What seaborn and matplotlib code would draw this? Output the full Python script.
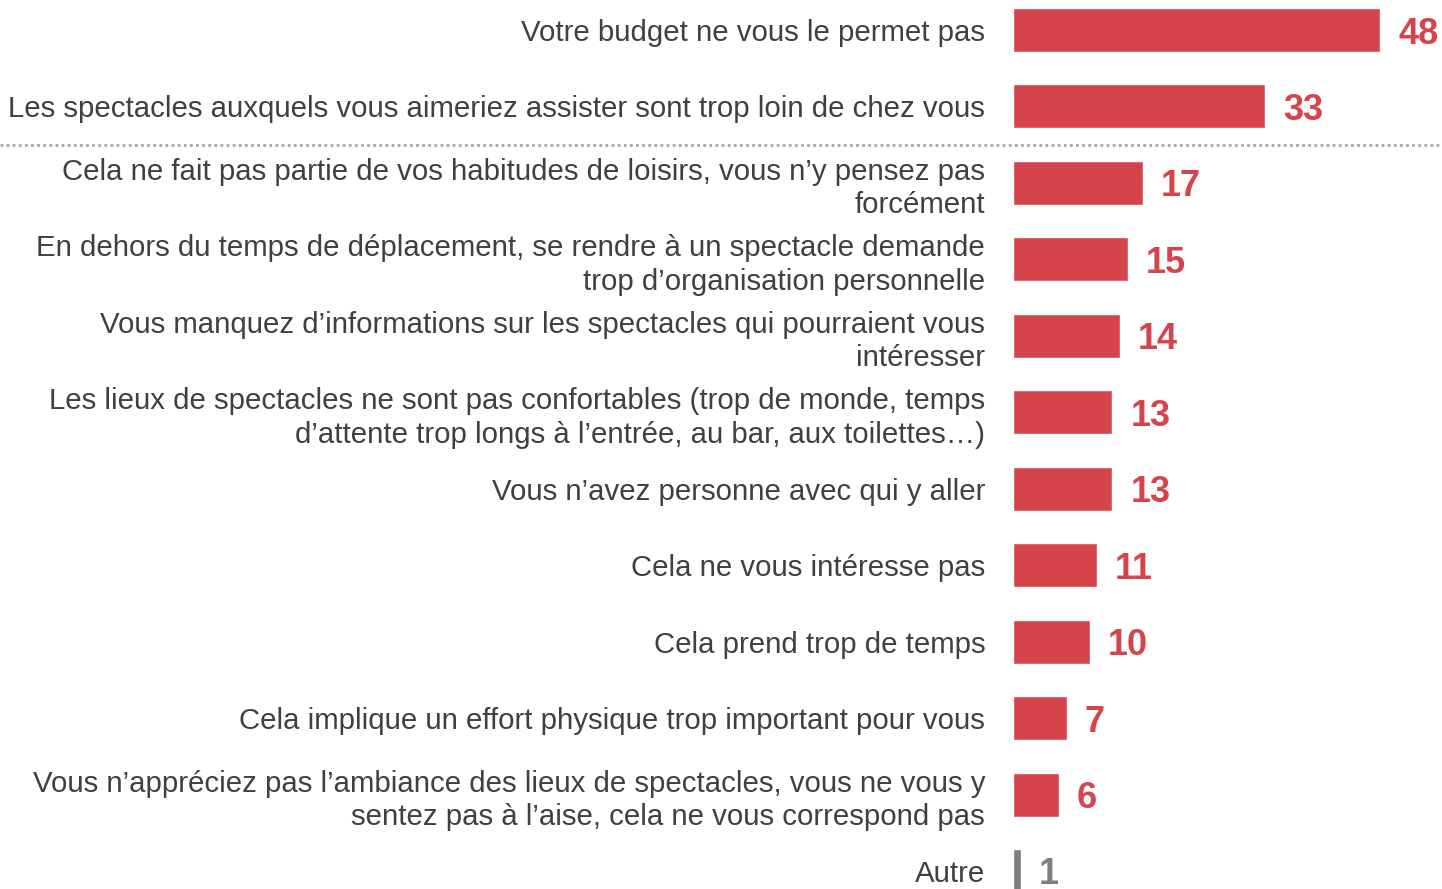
import numpy as np
import pandas as pd
import seaborn as sns
import matplotlib.pyplot as plt

# Raisons de ne pas aller voir de spectacles (%)
labels = [
    "Votre budget ne vous le permet pas",
    "Les spectacles auxquels vous aimeriez assister sont trop loin de chez vous",
    "Cela ne fait pas partie de vos habitudes de loisirs, vous n\u2019y pensez pas\nforcément",
    "En dehors du temps de déplacement, se rendre à un spectacle demande\ntrop d\u2019organisation personnelle",
    "Vous manquez d\u2019informations sur les spectacles qui pourraient vous\nintéresser",
    "Les lieux de spectacles ne sont pas confortables (trop de monde, temps\nd\u2019attente trop longs à l\u2019entrée, au bar, aux toilettes\u2026)",
    "Vous n\u2019avez personne avec qui y aller",
    "Cela ne vous intéresse pas",
    "Cela prend trop de temps",
    "Cela implique un effort physique trop important pour vous",
    "Vous n\u2019appréciez pas l\u2019ambiance des lieux de spectacles, vous ne vous y\nsentez pas à l\u2019aise, cela ne vous correspond pas",
    "Autre",
]
values = [48, 33, 17, 15, 14, 13, 13, 11, 10, 7, 6, 1]

RED = "#D6444B"
GREY = "#7F7F7F"
colors = [RED] * 11 + [GREY]

sns.set_style("white")
plt.rcParams['font.family'] = ['Liberation Sans', 'DejaVu Sans']

df = pd.DataFrame({"label": labels, "value": values})

fig = plt.figure(figsize=(14.42, 8.89), dpi=100)
ax = fig.add_axes([1013 / 1442, 0, 429 / 1442, 1])

sns.barplot(data=df, x="value", y="label", hue="label", palette=colors,
            legend=False, width=0.575, saturation=1, ax=ax, orient="h")

ax.set_xlim(0, 429 / 7.65)
ax.set_ylim(11 + 18 / 76.45, -30 / 76.45)
ax.set_xlabel("")
ax.set_ylabel("")
ax.set_xticks([])
sns.despine(ax=ax, left=True, bottom=True)
ax.tick_params(axis="y", length=0, pad=20, labelsize=21.2, labelcolor="#404040")
for t in ax.get_yticklabels():
    t.set_horizontalalignment("right")
    t.set_linespacing(1.25)

# valeurs
for i, v in enumerate(values):
    ax.annotate(str(v), (v, i), xytext=(13, 0), textcoords="offset points",
                va="center_baseline", ha="left", fontsize=26, fontweight="bold",
                color=colors[i])

# séparateur pointillé
ax.axhline(1.5, xmin=-1013 / 429, xmax=1, color="#A6A6A6", lw=2,
           ls=(0, (1, 1.2)), clip_on=False)

fig.savefig("out.png", dpi=100)
